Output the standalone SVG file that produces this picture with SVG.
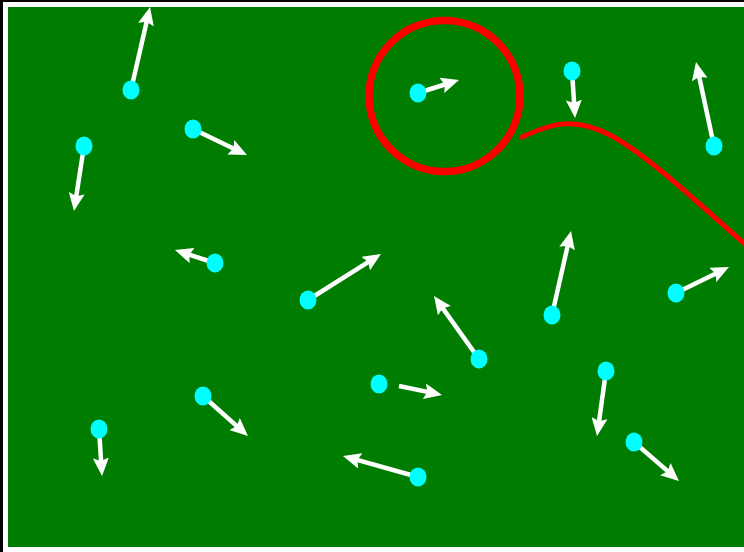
<svg xmlns="http://www.w3.org/2000/svg" width="744" height="552" viewBox="0 0 744 552">
<defs>
<style>
.arrow{stroke:#ffffff;stroke-width:4.5;fill:none;marker-end:url(#head)}
.dot{fill:#00ffff}
</style>
<marker id="head" viewBox="0 0 18 16" markerWidth="18" markerHeight="16" refX="8" refY="8" orient="auto" markerUnits="userSpaceOnUse">
<path d="M0,0 L18,8 L0,16 L3,8 Z" fill="#ffffff"/>
</marker>
</defs>
<rect x="0" y="0" width="744" height="552" fill="#000000"/>
<rect id="field" x="5.5" y="4.5" width="760" height="545" fill="#007c00" stroke="#ffffff" stroke-width="5"/>
<g id="region">
<circle cx="444.5" cy="96" r="75.5" fill="none" stroke="#ff0000" stroke-width="7.5"/>
<path d="M520,138 C548,125 572,115 610,135 S700,205 746,245" fill="none" stroke="#ff0000" stroke-width="5"/>
</g>
<g id="connectors">
<line class="arrow" x1="131" y1="90" x2="147.8" y2="16.8"/>
<line class="arrow" x1="84" y1="146" x2="75.5" y2="201.1"/>
<line class="arrow" x1="193" y1="129" x2="238" y2="150.7"/>
<line class="arrow" x1="215" y1="263" x2="184.5" y2="253.1"/>
<line class="arrow" x1="308" y1="300" x2="372.5" y2="259.3"/>
<line class="arrow" x1="418" y1="93" x2="449.5" y2="83"/>
<line class="arrow" x1="572" y1="71" x2="574.4" y2="108"/>
<line class="arrow" x1="714" y1="146" x2="698.1" y2="71.8"/>
<line class="arrow" x1="552" y1="315" x2="568.8" y2="240.8"/>
<line class="arrow" x1="676" y1="293" x2="720" y2="271.4"/>
<line class="arrow" x1="479" y1="359" x2="439.8" y2="304.1"/>
<line class="arrow" x1="399" y1="386" x2="432.2" y2="392.9"/>
<line class="arrow" x1="606" y1="371" x2="598.4" y2="426.1"/>
<line class="arrow" x1="203" y1="396" x2="240.5" y2="429.4"/>
<line class="arrow" x1="634" y1="442" x2="671.4" y2="474.4"/>
<line class="arrow" x1="99" y1="429" x2="101.4" y2="466"/>
<line class="arrow" x1="418" y1="477" x2="352.6" y2="458.7"/>
</g>
<g id="n1"><ellipse class="dot" cx="131" cy="90" rx="8.5" ry="9.5"/></g>
<g id="n2"><ellipse class="dot" cx="84" cy="146" rx="8.5" ry="9.5"/></g>
<g id="n3"><ellipse class="dot" cx="193" cy="129" rx="8.5" ry="9.5"/></g>
<g id="n4"><ellipse class="dot" cx="215" cy="263" rx="8.5" ry="9.5"/></g>
<g id="n5"><ellipse class="dot" cx="308" cy="300" rx="8.5" ry="9.5"/></g>
<g id="n6"><ellipse class="dot" cx="418" cy="93" rx="8.5" ry="9.5"/></g>
<g id="n7"><ellipse class="dot" cx="572" cy="71" rx="8.5" ry="9.5"/></g>
<g id="n8"><ellipse class="dot" cx="714" cy="146" rx="8.5" ry="9.5"/></g>
<g id="n9"><ellipse class="dot" cx="552" cy="315" rx="8.5" ry="9.5"/></g>
<g id="n10"><ellipse class="dot" cx="676" cy="293" rx="8.5" ry="9.5"/></g>
<g id="n11"><ellipse class="dot" cx="479" cy="359" rx="8.5" ry="9.5"/></g>
<g id="n12"><ellipse class="dot" cx="379" cy="384" rx="8.5" ry="9.5"/></g>
<g id="n13"><ellipse class="dot" cx="606" cy="371" rx="8.5" ry="9.5"/></g>
<g id="n14"><ellipse class="dot" cx="203" cy="396" rx="8.5" ry="9.5"/></g>
<g id="n15"><ellipse class="dot" cx="634" cy="442" rx="8.5" ry="9.5"/></g>
<g id="n16"><ellipse class="dot" cx="99" cy="429" rx="8.5" ry="9.5"/></g>
<g id="n17"><ellipse class="dot" cx="418" cy="477" rx="8.5" ry="9.5"/></g>
</svg>
